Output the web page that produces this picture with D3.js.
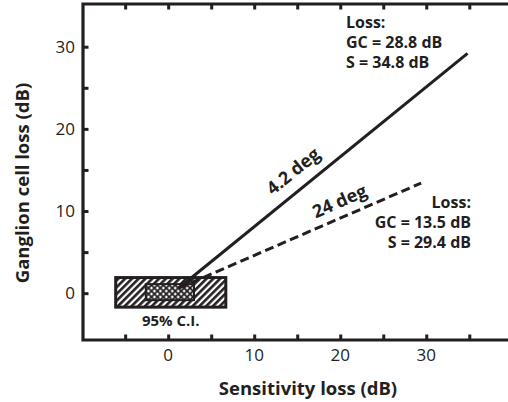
<!DOCTYPE html>
<html><head><meta charset="utf-8">
<script src="https://cdn.jsdelivr.net/npm/d3@7"></script>
<style>
html,body{margin:0;padding:0;background:#fff;}
svg{display:block;font-family:"Open Sans","Noto Sans",sans-serif;}
</style></head>
<body>
<svg id="chart" width="508" height="402"></svg>
<script>
// ---- data ----
const xTickValues = [-5, 0, 5, 10, 15, 20, 25, 30, 35];
const xTickLabels = [0, 10, 20, 30];
const yTickValues = [0, 5, 10, 15, 20, 25, 30];
const yTickLabels = [0, 10, 20, 30];
const line42 = [[1.2, 0.6], [34.8, 29.2]];      // 4.2 deg (solid)
const line24 = [[1.2, 0.6], [29.4, 13.4]];      // 24 deg (dashed)
const ciOuter = {x0: -6.1, x1: 6.7, y0: -1.7, y1: 1.9};
const ciInner = {x0: -2.6, x1: 3.0, y0: -0.85, y1: 1.1};
const note42 = ["Loss:", "GC = 28.8 dB", "S = 34.8 dB"];
const note24 = ["Loss:", "GC = 13.5 dB", "S = 29.4 dB"];

const ink = "#231f20";
const svg = d3.select("#chart");
const x = d3.scaleLinear().domain([-9.9, 39.5]).range([83, 508]);
const y = d3.scaleLinear().domain([-5.7, 35.2]).range([340, 4]);

// patterns
const defs = svg.append("defs");
const p1 = defs.append("pattern").attr("id","hatch").attr("patternUnits","userSpaceOnUse")
  .attr("width",4.8).attr("height",4.8).attr("patternTransform","rotate(45)");
p1.append("rect").attr("width",4.8).attr("height",4.8).attr("fill","#fff");
p1.append("rect").attr("x",1).attr("y",0).attr("width",2.6).attr("height",4.8).attr("fill",ink);
const p2 = defs.append("pattern").attr("id","cross").attr("patternUnits","userSpaceOnUse")
  .attr("width",4.2).attr("height",4.2).attr("patternTransform","rotate(45)");
p2.append("rect").attr("width",4.2).attr("height",4.2).attr("fill","#fff");
p2.append("rect").attr("x",1.2).attr("y",0).attr("width",1.8).attr("height",4.2).attr("fill",ink);
p2.append("rect").attr("x",0).attr("y",1.2).attr("width",4.2).attr("height",1.8).attr("fill",ink);

// CI boxes
svg.append("rect")
  .attr("x", x(ciOuter.x0)).attr("y", y(ciOuter.y1))
  .attr("width", x(ciOuter.x1) - x(ciOuter.x0)).attr("height", y(ciOuter.y0) - y(ciOuter.y1))
  .attr("fill","url(#hatch)").attr("stroke",ink).attr("stroke-width",3);
svg.append("rect")
  .attr("x", x(ciInner.x0)).attr("y", y(ciInner.y1))
  .attr("width", x(ciInner.x1) - x(ciInner.x0)).attr("height", y(ciInner.y0) - y(ciInner.y1))
  .attr("fill","url(#cross)").attr("stroke",ink).attr("stroke-width",2);

// lines
const lg = d3.line().x(d => x(d[0])).y(d => y(d[1]));
svg.append("path").attr("d", lg(line42)).attr("fill","none").attr("stroke",ink).attr("stroke-width",3);
svg.append("path").attr("d", lg(line24)).attr("fill","none").attr("stroke",ink).attr("stroke-width",3)
  .attr("stroke-dasharray","9,4.5");

// frame
svg.append("path")
  .attr("d", `M${x.range()[1]},${y.range()[1]} H${x.range()[0]} V${y.range()[0]} H${x.range()[1]}`)
  .attr("fill","none").attr("stroke",ink).attr("stroke-width",3.2).attr("stroke-linecap","square");

// axes ticks
const tk = 5.5;
const axB = d3.axisBottom(x).tickValues(xTickValues).tickSize(-tk).tickFormat("");
const axT = d3.axisTop(x).tickValues(xTickValues).tickSize(-tk).tickFormat("");
const axL = d3.axisLeft(y).tickValues(yTickValues).tickSize(-tk).tickFormat("");
function styleAx(g){ g.select(".domain").remove(); g.selectAll(".tick line").attr("stroke",ink).attr("stroke-width",3); }
svg.append("g").attr("transform",`translate(0,${y.range()[0]})`).call(axB).call(styleAx);
svg.append("g").attr("transform",`translate(0,${y.range()[1]})`).call(axT).call(styleAx);
svg.append("g").attr("transform",`translate(${x.range()[0]},0)`).call(axL).call(styleAx);

// tick labels
svg.append("g").selectAll("text").data(xTickLabels).join("text")
  .attr("x", d => x(d)).attr("y", 361).attr("text-anchor","middle")
  .attr("font-size",17).attr("fill",ink).text(d => d);
svg.append("g").selectAll("text").data(yTickLabels).join("text")
  .attr("x", 75).attr("y", d => y(d) + 6).attr("text-anchor","end")
  .attr("font-size",17).attr("fill",ink).text(d => d);

// axis titles
svg.append("text").attr("x", 308).attr("y", 395).attr("text-anchor","middle")
  .attr("font-size",18.5).attr("font-weight",700).attr("fill",ink).text("Sensitivity loss (dB)");
svg.append("text").attr("transform","translate(29,183) rotate(-90)").attr("text-anchor","middle")
  .attr("font-size",18.5).attr("font-weight",700).attr("fill",ink).text("Ganglion cell loss (dB)");

// CI label
svg.append("text").attr("x", x((ciOuter.x0+ciOuter.x1)/2)).attr("y", 326).attr("text-anchor","middle")
  .attr("font-size",15).attr("font-weight",700).attr("fill",ink).text("95% C.I.");

// line labels
function angle(l){ const dx = x(l[1][0]) - x(l[0][0]), dy = y(l[1][1]) - y(l[0][1]); return Math.atan2(dy, dx) * 180 / Math.PI; }
svg.append("text").attr("transform",`translate(297,176) rotate(${angle(line42)})`).attr("text-anchor","middle")
  .attr("font-size",18).attr("font-weight",700).attr("fill",ink).text("4.2 deg");
svg.append("text").attr("transform",`translate(342,207) rotate(${angle(line24)})`).attr("text-anchor","middle")
  .attr("font-size",18).attr("font-weight",700).attr("fill",ink).text("24 deg");

// annotations
svg.append("g").selectAll("text").data(note42).join("text")
  .attr("x", 346).attr("y", (d,i) => 28 + i*20)
  .attr("font-size",16).attr("font-weight",700).attr("fill",ink).text(d => d);
svg.append("g").selectAll("text").data(note24).join("text")
  .attr("x", 471).attr("y", (d,i) => 208 + i*20).attr("text-anchor","end")
  .attr("font-size",16).attr("font-weight",700).attr("fill",ink).text(d => d);
</script>
</body></html>
